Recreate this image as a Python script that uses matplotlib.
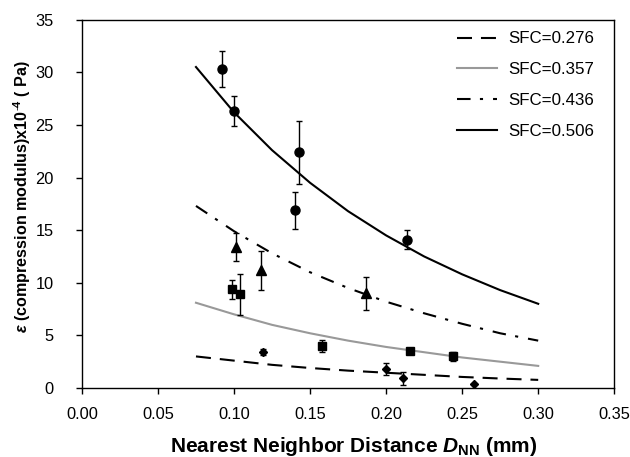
import numpy as np
import matplotlib.pyplot as plt

plt.rcParams['font.family'] = ['Liberation Sans', 'DejaVu Sans']
plt.rcParams['mathtext.fontset'] = 'custom'
plt.rcParams['mathtext.rm'] = 'Liberation Sans'
plt.rcParams['mathtext.it'] = 'Liberation Sans:italic'
plt.rcParams['mathtext.bf'] = 'Liberation Sans:bold'
plt.rcParams['mathtext.bfit'] = 'Liberation Sans:italic:bold'

# fitted curves
curve_x = [0.075, 0.10, 0.125, 0.15, 0.175, 0.20, 0.225, 0.25, 0.275, 0.30]
sfc_276 = [3.0, 2.6, 2.2, 1.9, 1.65, 1.45, 1.25, 1.05, 0.9, 0.77]
sfc_357 = [8.1, 7.0, 6.0, 5.2, 4.5, 3.9, 3.4, 2.9, 2.5, 2.1]
sfc_436 = [17.3, 14.9, 12.8, 11.0, 9.5, 8.2, 7.1, 6.1, 5.2, 4.5]
sfc_506 = [30.5, 26.2, 22.6, 19.5, 16.8, 14.5, 12.5, 10.8, 9.3, 8.0]

# measured points with error bars
circ_x = [0.092, 0.100, 0.143, 0.140, 0.214]
circ_y = [30.3, 26.3, 22.4, 16.9, 14.1]
circ_err = [1.7, 1.4, 3.0, 1.75, 0.9]

tri_x = [0.101, 0.118, 0.187]
tri_y = [13.4, 11.2, 9.0]
tri_err = [1.35, 1.85, 1.55]

sq_x = [0.099, 0.104, 0.158, 0.216, 0.244]
sq_y = [9.4, 8.9, 4.0, 3.55, 3.0]
sq_err = [0.9, 1.95, 0.6, 0.15, 0.4]

dia_x = [0.119, 0.200, 0.211, 0.258]
dia_y = [3.4, 1.8, 0.92, 0.42]
dia_err = [0.3, 0.55, 0.6, 0.0]

xticks = [0.00, 0.05, 0.10, 0.15, 0.20, 0.25, 0.30, 0.35]
yticks = [0, 5, 10, 15, 20, 25, 30, 35]

fig = plt.figure(figsize=(6.3, 4.57), dpi=100)
ax = fig.add_axes([0.130, 0.151, 0.845, 0.806])

lw = 1.5
ax.plot(curve_x, sfc_276, color='black', lw=lw, linestyle=(0, (7.2, 4.3)), label='SFC=0.276')
ax.plot(curve_x, sfc_357, color='#999999', lw=lw, label='SFC=0.357')
ax.plot(curve_x, sfc_436, color='black', lw=lw, linestyle=(0, (6.5, 4.5, 1.5, 4.8)), label='SFC=0.436')
ax.plot(curve_x, sfc_506, color='black', lw=lw, label='SFC=0.506')

ekw = dict(linestyle='none', color='black', ecolor='black', elinewidth=1, capsize=2.5, capthick=1)
ax.errorbar(circ_x, circ_y, yerr=circ_err, marker='o', markersize=6.5, **ekw)
ax.errorbar(tri_x, tri_y, yerr=tri_err, marker='^', markersize=6.5, **ekw)
ax.errorbar(sq_x, sq_y, yerr=sq_err, marker='s', markersize=5.5, **ekw)
ax.errorbar(dia_x, dia_y, yerr=dia_err, marker='D', markersize=4.5, **ekw)

ax.set_xlim(0, 0.35)
ax.set_ylim(0, 35)
ax.set_xticks(xticks)
ax.set_xticklabels(['%.2f' % v for v in xticks])
ax.set_yticks(yticks)
ax.tick_params(direction='out', length=4.5, width=1, labelsize=11.8)
ax.tick_params(axis='x', pad=9)
ax.tick_params(axis='y', pad=16)
for s in ax.spines.values():
    s.set_linewidth(1)

ax.set_xlabel(r'Nearest Neighbor Distance $\mathbfit{D}_{\mathbf{NN}}$ (mm)', fontsize=15,
              fontweight='bold')
ax.xaxis.set_label_coords(0.51, -0.128)
ax.set_ylabel(r'$\mathbfit{\varepsilon}$ (compression modulus)x10$^{\mathbf{\text{-}4}}$ ( Pa)',
              fontsize=11.6, fontweight='bold')
ax.yaxis.set_label_coords(-0.092, 0.52)

leg = ax.legend(loc='upper right', bbox_to_anchor=(0.962, 0.968), frameon=False, fontsize=12.2,
                handlelength=2.36, labelspacing=0.93, handletextpad=0.65,
                borderpad=0, borderaxespad=0)

fig.savefig('out.png', dpi=100)
